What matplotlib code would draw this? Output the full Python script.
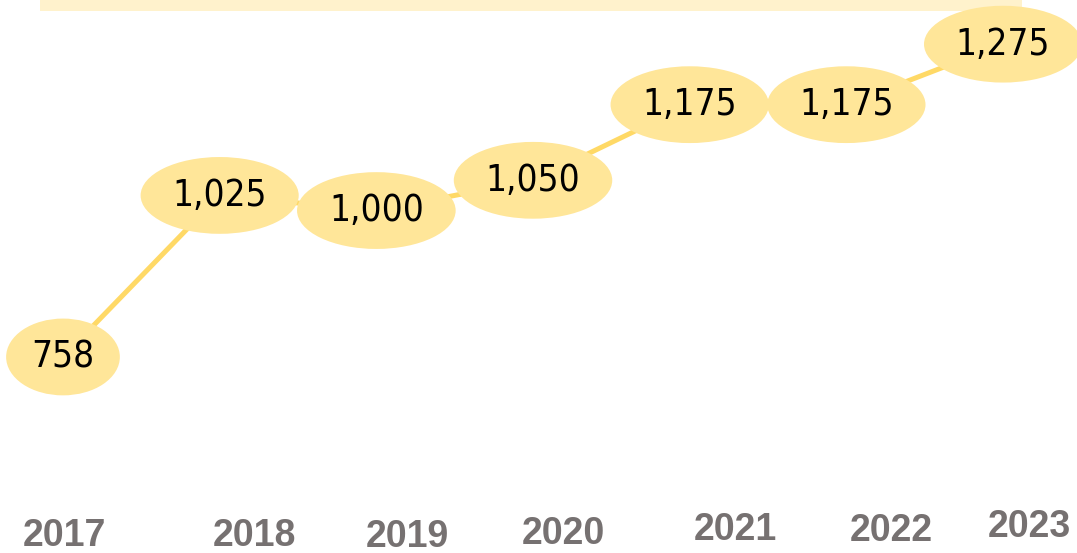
import matplotlib.pyplot as plt
import matplotlib.patches as patches

years = ['2017', '2018', '2019', '2020', '2021', '2022', '2023']
values = [758, 1025, 1000, 1050, 1175, 1175, 1275]

line_col = '#FFD966'
bubble_col = '#FFE699'
band_col = '#FFF2CC'
year_col = '#767171'

fig = plt.figure(figsize=(10.77, 5.53), dpi=100)
ax = fig.add_axes([0, 0, 1, 1])
ax.set_xlim(-0.402, 6.472)
ax.set_ylim(434, 1348)
ax.axis('off')

# light band across the top
band = patches.Rectangle((0.037, 0.980), 0.912, 0.02, transform=ax.transAxes,
                         facecolor=band_col, edgecolor='none', zorder=1)
ax.add_patch(band)

xs = list(range(len(values)))
ax.plot(xs, values, color=line_col, lw=3.6, zorder=2, solid_capstyle='round')

# value bubbles
for x, v in zip(xs, values):
    ax.text(x, v, f'{v:,}', ha='center', va='center', fontsize=26.5,
            family='DejaVu Sans', stretch='condensed', color='black', zorder=3,
            bbox=dict(boxstyle='ellipse,pad=0.235', facecolor=bubble_col,
                      edgecolor='none'))

# year labels sit a little loose under the points (pixel offsets)
shift_x = [1, 35, 31, 30, 46, 45, 26]
center_y = [536, 536, 537, 534, 530, 531, 527]
for x, yr, dx, yc in zip(xs, years, shift_x, center_y):
    ax.annotate(yr, xy=(x, 0), xycoords=('data', 'axes fraction'),
                xytext=(dx * 0.72, (553 - yc) * 0.72), textcoords='offset points',
                ha='center', va='center', fontsize=27, fontweight='bold',
                family='Liberation Sans', color=year_col)

fig.savefig('out.png', dpi=100)
